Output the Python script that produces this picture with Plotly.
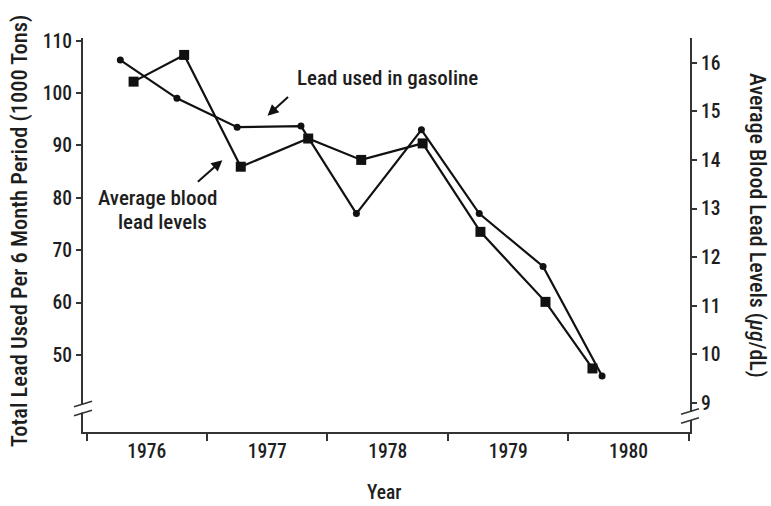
import plotly.graph_objects as go

# ---- data ----
years = [1976, 1977, 1978, 1979, 1980]
year_labels = ["1976", "1977", "1978", "1979", "1980"]

gas_x = [1976.28, 1976.75, 1977.25, 1977.78, 1978.24, 1978.78, 1979.26, 1979.79, 1980.28]
gas_y = [106.3, 99.0, 93.5, 93.7, 77.0, 93.0, 77.0, 66.9, 46.0]

blood_x = [1976.39, 1976.81, 1977.28, 1977.84, 1978.28, 1978.79, 1979.27, 1979.81, 1980.20]
blood_y = [15.61, 16.16, 13.86, 14.44, 14.0, 14.34, 12.52, 11.08, 9.71]

left_ticks = [50, 60, 70, 80, 90, 100, 110]
right_ticks = [9, 10, 11, 12, 13, 14, 15, 16]

FONT = "Roboto Condensed, Liberation Sans Narrow, Roboto, sans-serif"
INK = "#1e1e1e"
AX = "#333333"
W8 = 500

WIDTH, HEIGHT = 771, 506
ML, MR, MT, MB = 83, 81, 38, 74
PW = WIDTH - ML - MR
PH = HEIGHT - MT - MB

def pxx(px):  # pixel column -> paper x
    return (px - ML) / PW

def pxy(px):  # pixel row -> paper y
    return (HEIGHT - MB - px) / PH

fig = go.Figure()
fig.add_trace(go.Scatter(
    x=gas_x, y=gas_y, mode="lines+markers", name="Lead used in gasoline",
    line=dict(color="#111", width=2.2),
    marker=dict(symbol="circle", size=7, color="#111"),
    yaxis="y"))
fig.add_trace(go.Scatter(
    x=blood_x, y=blood_y, mode="lines+markers", name="Average blood lead levels",
    line=dict(color="#111", width=2.2),
    marker=dict(symbol="square", size=10, color="#111"),
    yaxis="y2"))

tickfont = dict(family=FONT, size=19.5, color=INK, weight=W8)

fig.update_layout(
    width=WIDTH, height=HEIGHT,
    margin=dict(l=ML, r=MR, t=MT, b=MB),
    paper_bgcolor="white", plot_bgcolor="white",
    showlegend=False,
    font=dict(family=FONT, size=18, color=INK),
    xaxis=dict(
        range=[1975.97, 1981.01], automargin=False,
        tickmode="array",
        tickvals=[y + 0.5 for y in years],
        ticktext=year_labels,
        ticks="outside", ticklen=1, tickcolor="rgba(0,0,0,0)",
        minor=dict(tickmode="linear", tick0=1976, dtick=1, ticks="outside",
                   ticklen=7, tickwidth=1.5, tickcolor=AX, showgrid=False),
        showline=True, linecolor=AX, linewidth=2,
        showgrid=False, zeroline=False,
        tickfont=tickfont,
    ),
    yaxis=dict(
        range=[35.30, 110.52], automargin=False,
        tickmode="array", tickvals=left_ticks,
        ticks="outside", ticklen=5, tickwidth=1.5, tickcolor=AX,
        showline=True, linecolor=AX, linewidth=2,
        showgrid=False, zeroline=False,
        tickfont=tickfont,
    ),
    yaxis2=dict(
        range=[8.403, 16.508], overlaying="y", side="right", automargin=False,
        tickmode="array", tickvals=right_ticks,
        ticks="outside", ticklen=5, tickwidth=1.5, tickcolor=AX,
        showline=True, linecolor=AX, linewidth=2,
        showgrid=False, zeroline=False,
        tickfont=tickfont,
    ),
)

# axis titles
fig.add_annotation(xref="paper", yref="paper", x=pxx(19), y=pxy(231),
                   text="Total Lead Used Per 6 Month Period (1000 Tons)",
                   textangle=-90, showarrow=False, xanchor="center", yanchor="middle",
                   font=dict(family=FONT, size=22.5, color=INK, weight=W8))
fig.add_annotation(xref="paper", yref="paper", x=pxx(757), y=pxy(226),
                   text="Average Blood Lead Levels (<i>μg</i>/dL)",
                   textangle=90, showarrow=False, xanchor="center", yanchor="middle",
                   font=dict(family=FONT, size=22, color=INK, weight=W8))
fig.add_annotation(xref="paper", yref="paper", x=pxx(384), y=pxy(492),
                   text="Year", showarrow=False, xanchor="center", yanchor="middle",
                   font=dict(family=FONT, size=19.5, color=INK, weight=W8))

# labels with arrows
fig.add_annotation(xref="paper", yref="paper", x=pxx(295), y=pxy(78),
                   text="Lead used in gasoline", showarrow=False,
                   xanchor="left", yanchor="middle",
                   font=dict(family=FONT, size=21, color=INK, weight=W8))
fig.add_annotation(xref="paper", yref="paper", x=pxx(157.5), y=pxy(198),
                   text="Average blood", showarrow=False,
                   xanchor="center", yanchor="middle",
                   font=dict(family=FONT, size=21, color=INK, weight=W8))
fig.add_annotation(xref="paper", yref="paper", x=pxx(162), y=pxy(222),
                   text="lead levels", showarrow=False,
                   xanchor="center", yanchor="middle",
                   font=dict(family=FONT, size=21, color=INK, weight=W8))
fig.add_annotation(x=1977.502, y=95.7, xref="x", yref="y", text="",
                   showarrow=True, ax=22, ay=-20, arrowhead=2, arrowsize=1.1,
                   arrowwidth=2, arrowcolor="#111")
fig.add_annotation(x=1977.127, y=87.2, xref="x", yref="y", text="",
                   showarrow=True, ax=-26, ay=23, arrowhead=2, arrowsize=1.1,
                   arrowwidth=2, arrowcolor="#111")

# axis break marks
shapes = []
for xp, yp in ((0.0, 408.5), (1.0, 416.0)):
    yc = pxy(yp)
    shapes.append(dict(type="line", xref="paper", yref="paper",
                       x0=xp, x1=xp, y0=yc - 4.0 / PH, y1=yc + 4.0 / PH,
                       line=dict(color="white", width=5)))
    for dy in (-4.5, 4.5):
        shapes.append(dict(type="line", xref="paper", yref="paper",
                           x0=xp - 9 / PW, x1=xp + 9 / PW,
                           y0=yc + (dy - 2.7) / PH, y1=yc + (dy + 2.7) / PH,
                           line=dict(color=AX, width=1.6)))
fig.update_layout(shapes=shapes)

fig.write_html(
    "out.html",
    config={"displayModeBar": False},
    post_script="document.body.style.margin='0';document.body.style.overflow='hidden';",
)
